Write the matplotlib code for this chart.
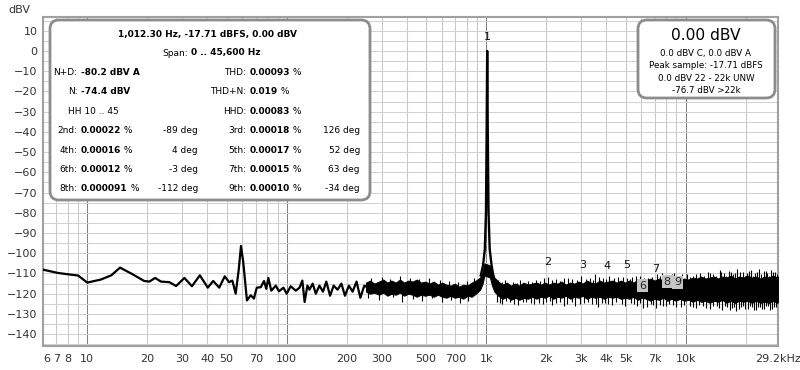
import numpy as np
import matplotlib
matplotlib.use('Agg')
import matplotlib.pyplot as plt
from matplotlib.patches import FancyBboxPatch
from matplotlib.transforms import IdentityTransform

plt.rcParams['font.family'] = 'DejaVu Sans'

W, H = 800, 370

# low frequency part of the spectrum (single visible line)
lf_freq = [6.0, 7.1, 8.0, 9.0, 10.0, 11.7, 13.2, 14.6, 16.6, 19.3, 20.5, 21.9, 23.4,
           25.8, 27.9, 30.7, 33.5, 36.7, 40.2, 42.8, 45.9, 48.9, 51.4, 53.4, 55.5,
           57.5, 59.0, 60.5, 63.2, 66.0, 68.5, 70.8, 74.1, 77.0, 79.0, 80.9, 83.7,
           88.1, 91.5, 96.3, 100, 104.7, 111, 116, 119.8, 123, 127, 130, 135, 140,
           146, 152, 158, 165, 172, 180, 188, 196, 205, 214, 224, 234, 245, 250]
lf_db = [-108.1, -109.7, -110.4, -111.0, -114.5, -113.0, -110.9, -107.1, -110.0, -113.7,
         -114.0, -112.2, -114.0, -114.3, -116.2, -112.2, -116.3, -110.9, -117.0, -113.7,
         -117.0, -111.4, -114.3, -113.5, -120.0, -108.0, -96.4, -104.0, -123.3, -120.8,
         -122.4, -117.0, -116.8, -113.7, -117.6, -112.2, -118.5, -116.0, -118.8, -117.0,
         -120.0, -116.3, -118.5, -117.0, -113.5, -124.1, -116.0, -118.0, -115.0, -120.0,
         -116.0, -119.0, -114.0, -121.0, -116.0, -118.0, -115.0, -121.0, -116.0, -119.0,
         -114.0, -122.0, -116.0, -116.5]

# dense noise floor: upper / lower edge of the band
band_freq = [250, 262, 275, 290, 305, 320, 335, 352, 370, 388, 407, 428, 449, 471,
             495, 520, 546, 573, 602, 632, 663, 696, 731, 768, 806, 846, 888,
             933, 960, 980,
             1045, 1070, 1100, 1150, 1210, 1270, 1330, 1400, 1470, 1540, 1620, 1700, 1790, 1880,
             1970, 2070, 2170, 2280, 2390, 2510, 2640, 2770, 2910, 3050, 3200, 3360, 3530, 3710,
             3900, 4090, 4300, 4510, 4740, 4970,
             5220, 5480, 5760, 6050, 6350, 6670, 7000, 7350, 7720, 8100, 8510, 8930, 9380, 9850,
             10340, 10860, 11400, 11970, 12570, 13200, 13860, 14550, 15280, 16040, 16840,
             17690, 18570, 19500, 20470, 21500, 22570, 23700, 24890, 26130, 27440, 28810, 29200]
band_hi = [-114.5, -113.5, -115, -114, -113, -114.5, -113.5, -114.5, -113, -114.5, -113.5, -114, -113, -114.5,
           -114, -115, -114, -115.5, -114.5, -115.5, -116, -115, -116.5, -115.5, -116, -114.5, -113.5,
           -112, -109, -105,
           -106, -109, -112, -114, -115.5, -114.5, -116, -115, -116, -114.5, -115.5, -115, -114.5, -115.5,
           -114.5, -115.5, -114.5, -115, -114, -115.5, -114.5, -115, -114, -115, -113.5, -114.5, -115, -113.5,
           -114.5, -114, -113.5, -114.5, -113.5, -114.5,
           -113.5, -114.5, -113, -114, -113.5, -112.5, -113.5, -112.5, -113.5, -112.5, -113, -112, -113, -112.5,
           -113, -112, -112.5, -111.5, -112.5, -112, -111.5, -112.5, -111.5, -112, -111,
           -112.5, -111.5, -112, -111, -112, -111.5, -112.5, -111.5, -112, -111, -112, -111.5]
band_lo = [-119, -120, -119.5, -120.5, -119.5, -121, -120, -120.5, -119.5, -121, -120, -120.5, -121.5, -120.5,
           -121, -120.5, -121.5, -120.5, -121.5, -122, -121, -122, -121.5, -122.5, -121, -121.5, -120,
           -118, -115, -111,
           -112, -116, -119, -121, -122.5, -121.5, -123, -122, -123, -122, -122.5, -121.5, -122.5, -121.5,
           -122, -121, -122.5, -121.5, -122, -121, -122.5, -121.5, -122, -121, -122.5, -121.5, -122, -121.5,
           -122.5, -121.5, -122, -121.5, -122.5, -122,
           -122.5, -121.5, -123, -122, -122.5, -123.5, -122.5, -123, -122, -123.5, -122.5, -123.5, -122.5, -123.5,
           -123, -124, -123, -124, -123.5, -124.5, -123.5, -124, -123, -124.5, -123.5,
           -124.5, -123.5, -124, -123.5, -124.5, -123.5, -124.5, -124, -124.5, -123.5, -124.5, -124]

# noise spikes sticking out of the band
up_freq = [265, 300, 330, 372, 415, 460, 520, 585, 650, 720, 800, 870, 1150, 1250, 1360,
           1480, 1620, 1780, 1960, 2050, 2230, 2450, 2700, 2980, 3300, 3520, 3850, 4150,
           4600, 5100, 5400, 5900, 6500, 7200, 7600, 8300, 8700, 9200, 10200, 10900, 11800,
           12900, 13700, 14800, 15500, 16500, 17300, 18200, 19300, 20400, 21300, 22300,
           23400, 24600, 25700, 26800, 28100, 29000,
           1100, 1200, 1420, 1700, 1870, 2140, 2350, 2580, 2850, 3150, 3420, 3700, 4000, 4400,
           4850, 5250, 5650, 6200, 6800, 7400, 8000, 8500, 9600, 10500, 11300, 12300, 13300,
           14200, 15100, 16000, 16900, 17700, 18700, 19800, 20900, 21800, 22800, 24000, 25200,
           26300, 27400, 28600]
up_db = [-112, -111.5, -112.5, -111, -112, -112.5, -112, -113, -113.5, -114, -113.5, -112,
         -113, -113, -114, -113, -113.5, -113, -112, -111.5, -112.5, -112, -112.5, -111, -112,
         -110.5, -112, -111, -111.5, -112, -111.5, -111, -112, -110.5, -110, -111, -110, -111,
         -110.5, -111, -110, -109.5, -110.5, -108.5, -110, -109, -110.5, -108, -109.5, -110,
         -108.5, -110, -108, -109, -110, -108.5, -109.5, -110,
         -113.5, -114, -114.5, -114, -113.5, -113, -113.5, -112, -113, -112.5, -113, -111.5,
         -112.5, -112, -111.5, -112.5, -111, -112, -111.5, -111, -112, -110.5, -110.5, -111.5,
         -110.5, -111, -110, -111, -109.5, -111, -109.5, -110, -109.5, -111, -109, -111, -109.5,
         -110.5, -109, -111, -109.5, -110.5]
dn_freq = [255, 290, 340, 380, 430, 475, 535, 600, 665, 740, 815, 1130, 1200, 1320, 1440,
           1590, 1730, 1850, 2000, 2150, 2350, 2550, 2800, 3100, 3400, 3650, 3950, 4300,
           4800, 5300, 5700, 6100, 6700, 7100, 7400, 8000, 8600, 9500, 10500, 11300, 12200,
           13300, 14300, 15200, 16200, 17100, 18000, 19000, 19900, 21000, 22000, 23000,
           24200, 25300, 26500, 27700, 28900,
           1170, 1260, 1380, 1530, 1680, 1920, 2080, 2250, 2450, 2680, 2950, 3250, 3550, 3800,
           4100, 4500, 4950, 5500, 5900, 6400, 6900, 7700, 8300, 9000, 9800, 10900, 11700,
           12700, 13800, 14700, 15700, 16700, 17500, 18500, 19500, 20500, 21500, 22500, 23600,
           24800, 25900, 27100, 28300]
dn_db = [-122, -123, -121.5, -124, -122.5, -123.5, -122, -124, -123, -124.5, -123.5, -124,
         -125, -124, -125.5, -124, -125, -124.5, -124, -125.5, -124, -125, -126, -124.5, -125,
         -126.5, -124.5, -125.5, -125, -124.5, -126, -127, -125, -127, -125.5, -126, -125.5,
         -126.5, -126, -127, -126, -127.5, -126, -128, -126.5, -127, -128.5, -126.5, -127.5,
         -126, -128, -126.5, -127.5, -126, -128, -126.5, -127,
         -124.5, -123.5, -125, -124, -124.5, -125, -123.5, -124.5, -126, -124, -125, -124,
         -125, -124.5, -125, -124, -126, -125, -124.5, -126.5, -125.5, -126, -125, -126.5,
         -125.5, -126.5, -125.5, -127, -126, -127, -126, -128, -126.5, -127.5, -126, -127.5,
         -126.5, -128, -126.5, -127.5, -126, -127.5, -126.5]

# fundamental peak
peak_freq = [940, 965, 985, 998, 1006, 1012.3, 1019, 1028, 1042, 1065, 1090]
peak_db = [-111, -106, -98, -80, -40, 0.0, -40, -80, -98, -106, -112]

# harmonic markers
harm_num = ['1', '2', '3', '4', '5', '6', '7', '8', '9']
harm_freq = [1012.3 * n for n in range(1, 10)]
harm_label_db = [7, -104.5, -106, -106.4, -105.7, -116, -108, -114, -114.4]
harm_boxed = [False, False, False, False, False, True, False, True, True]

x_ticks = [6, 7, 8, 10, 20, 30, 40, 50, 70, 100, 200, 300, 500, 700, 1000, 2000, 3000,
           4000, 5000, 7000, 10000, 29200]
x_labels = ['6', '7', '8', '10', '20', '30', '40', '50', '70', '100', '200', '300', '500',
            '700', '1k', '2k', '3k', '4k', '5k', '7k', '10k', '29.2kHz']
y_ticks = list(range(10, -150, -10))

assert len(band_freq) == len(band_hi) == len(band_lo)
assert len(up_freq) == len(up_db) and len(dn_freq) == len(dn_db)

fig = plt.figure(figsize=(8, 3.7), dpi=100)
ax = fig.add_axes([43 / W, 1 - 345.7 / H, (778.4 - 43) / W, (345.7 - 17) / H])
ax.set_xscale('log')
ax.set_xlim(6.03, 29200)
ax.set_ylim(-145.7, 16.8)

# grid
for dec in [1, 10, 100, 1000, 10000]:
    for m in range(1, 10):
        f = dec * m
        if f < 6 or f > 29200:
            continue
        if m == 1:
            ax.axvline(f, color='#808080', lw=0.75, zorder=1)
        else:
            ax.axvline(f, color='#c8c8c8', lw=0.75, zorder=1)
for v in range(15, -150, -5):
    ax.axhline(v, color='#d2d2d2', lw=0.75, zorder=1)

ax.plot(lf_freq, lf_db, color='black', lw=1.6, zorder=3)
ax.fill_between(band_freq, band_lo, band_hi, color='black', lw=0.7, zorder=3)
ax.vlines(up_freq, -117, up_db, color='black', lw=0.8, zorder=3)
ax.vlines(dn_freq, -117, dn_db, color='black', lw=0.8, zorder=3)
ax.plot(peak_freq, peak_db, color='black', lw=1.7, zorder=4)

for n, f, d, boxed in zip(harm_num, harm_freq, harm_label_db, harm_boxed):
    if boxed:
        ax.text(f, d, n, ha='center', va='center', fontsize=8, color='#222222', zorder=6,
                bbox=dict(boxstyle='square,pad=0.15', fc='#c4c4c4', ec='none'))
    else:
        ax.text(f, d, n, ha='center', va='center', fontsize=8, color='#111111', zorder=6)

ax.set_xticks(x_ticks)
ax.set_xticklabels(x_labels)
ax.xaxis.set_minor_locator(matplotlib.ticker.NullLocator())
ax.set_yticks(y_ticks)
ax.tick_params(axis='both', length=0, labelsize=8, labelcolor='#333333')
ax.tick_params(axis='x', pad=6)
ax.tick_params(axis='y', pad=4)
ax.get_xticklabels()[0].set_ha('left')
for s in ax.spines.values():
    s.set_color('#a0a0a0')
    s.set_linewidth(1.5)

fig.text(8 / W, 1 - 10 / H, 'dBV', fontsize=8, color='#333333', va='center')


def fx(x):
    return x / W


def fy(y):
    return 1 - y / H


# rounded boxes
for x0, y0, x1, y1 in [(50, 20, 370, 200), (638, 20, 775, 98)]:
    box = FancyBboxPatch((x0, H - y1), x1 - x0, y1 - y0,
                         boxstyle='round,pad=0,rounding_size=9',
                         transform=IdentityTransform(), fc='white', ec='#8c8c8c',
                         lw=2.0, zorder=5)
    fig.add_artist(box)

fs = 6.5
renderer = fig.canvas.get_renderer()


def bold_pct(x, y, num, tail=' %'):
    t = fig.text(fx(x), fy(y), num, fontsize=fs, weight='bold', va='center', ha='left', zorder=6)
    bb = t.get_window_extent(renderer)
    fig.text(bb.x1 / W, fy(y), tail, fontsize=fs, va='center', ha='left', zorder=6)


fig.text(fx(208), fy(34), '1,012.30 Hz, -17.71 dBFS, 0.00 dBV', fontsize=fs, weight='bold',
         ha='center', va='center', zorder=6)
fig.text(fx(188), fy(53), 'Span:', fontsize=fs, ha='right', va='center', zorder=6)
fig.text(fx(191), fy(53), '0 .. 45,600 Hz', fontsize=fs, weight='bold', ha='left',
         va='center', zorder=6)

rows_y = [72.7, 91.5, 111.5, 131, 150.3, 169.7, 188.5]

left_labels = ['N+D:', 'N:', None, '2nd:', '4th:', '6th:', '8th:']
left_vals = ['-80.2 dBV A', '-74.4 dBV', None, '0.00022', '0.00016', '0.00012', '0.000091']
left_deg = [None, None, None, '-89 deg', '4 deg', '-3 deg', '-112 deg']
right_labels = ['THD:', 'THD+N:', 'HHD:', '3rd:', '5th:', '7th:', '9th:']
right_vals = ['0.00093', '0.019', '0.00083', '0.00018', '0.00017', '0.00015', '0.00010']
right_deg = [None, None, None, '126 deg', '52 deg', '63 deg', '-34 deg']

for i, y in enumerate(rows_y):
    if left_labels[i]:
        fig.text(fx(77.5), fy(y), left_labels[i], fontsize=fs, ha='right', va='center', zorder=6)
        if i < 2:
            fig.text(fx(81), fy(y), left_vals[i], fontsize=fs, weight='bold', ha='left',
                     va='center', zorder=6)
        else:
            bold_pct(81, y, left_vals[i])
    if left_deg[i]:
        fig.text(fx(198), fy(y), left_deg[i], fontsize=fs, ha='right', va='center', zorder=6)
    fig.text(fx(246), fy(y), right_labels[i], fontsize=fs, ha='right', va='center', zorder=6)
    bold_pct(249.5, y, right_vals[i])
    if right_deg[i]:
        fig.text(fx(360), fy(y), right_deg[i], fontsize=fs, ha='right', va='center', zorder=6)

fig.text(fx(68), fy(rows_y[2]), 'HH 10 .. 45', fontsize=fs, ha='left', va='center', zorder=6)

# level box
fig.text(fx(706), fy(35), '0.00 dBV', fontsize=11.2, ha='center', va='center', zorder=6)
level_lines = ['0.0 dBV C, 0.0 dBV A', 'Peak sample: -17.71 dBFS', '0.0 dBV 22 - 22k UNW',
               '-76.7 dBV >22k']
for k, s in enumerate(level_lines):
    fig.text(fx(706), fy(53.5 + 12.4 * k), s, fontsize=6.3, ha='center', va='center', zorder=6)

fig.savefig('out.png', dpi=100)
